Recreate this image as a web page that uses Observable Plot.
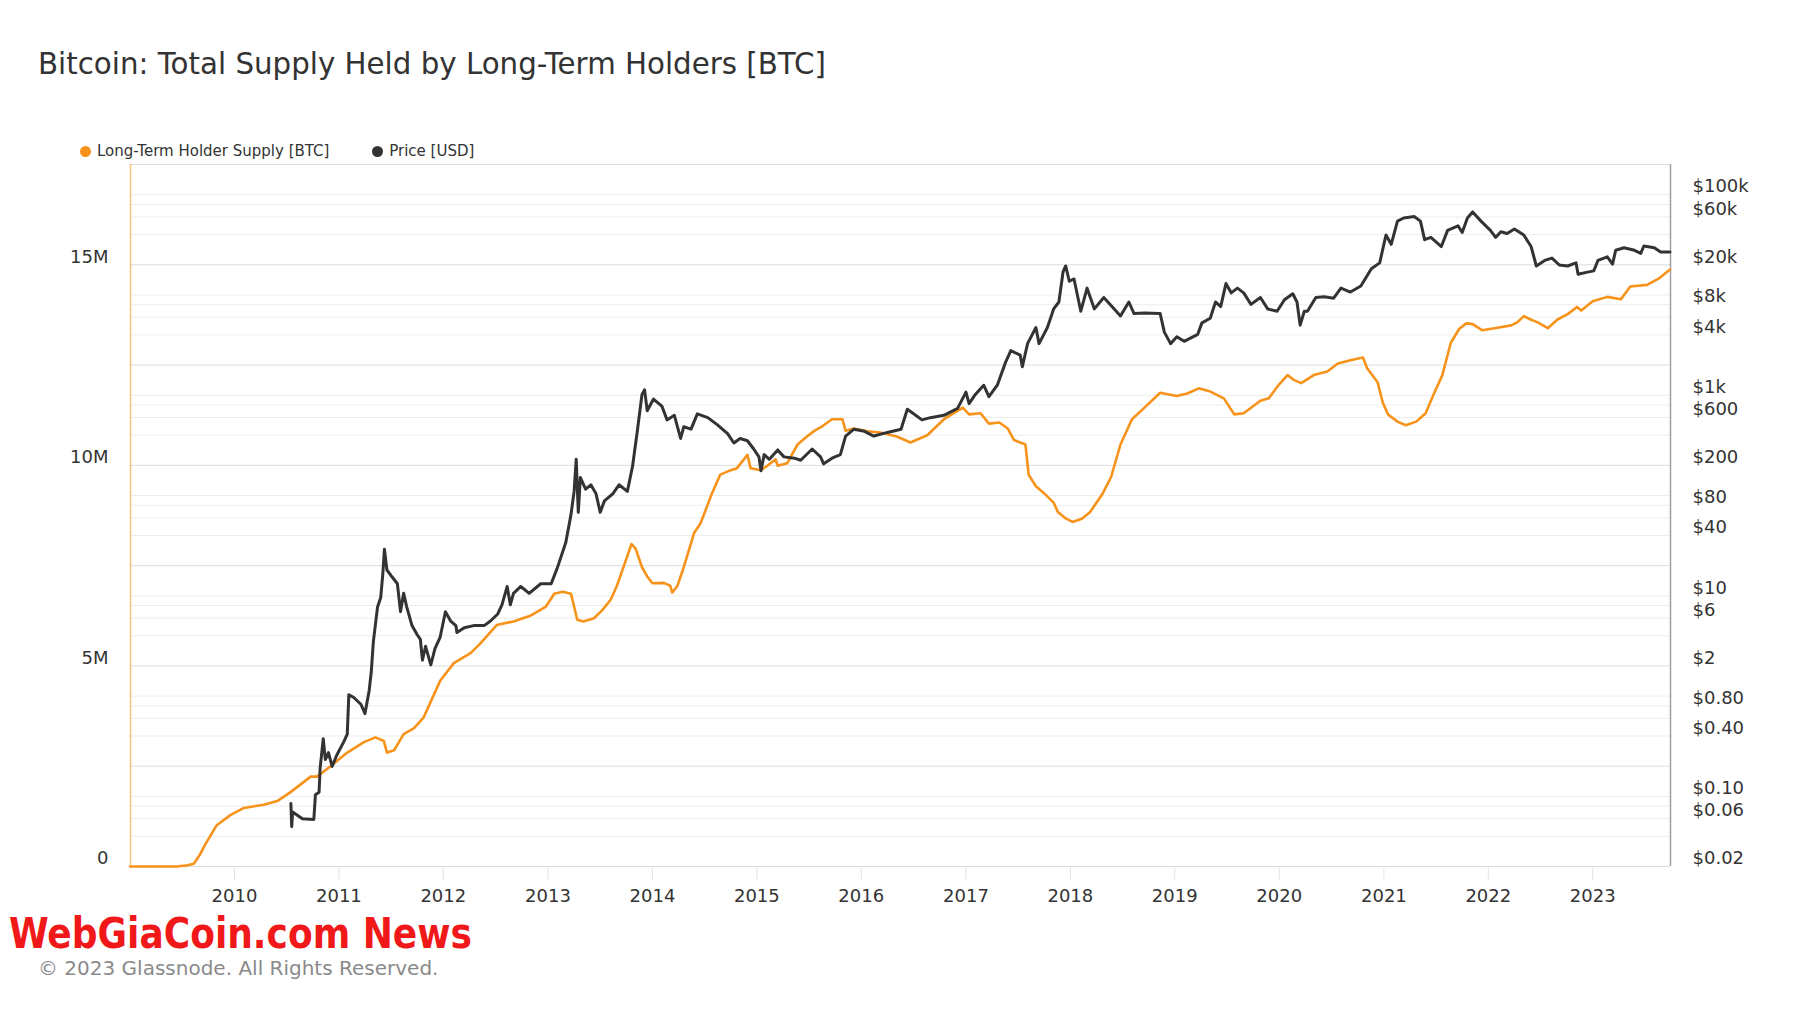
<!DOCTYPE html>
<html>
<head>
<meta charset="utf-8">
<script src="https://cdn.jsdelivr.net/npm/d3@7"></script>
<script src="https://cdn.jsdelivr.net/npm/@observablehq/plot@0.6"></script>
<style>
  html, body { margin: 0; padding: 0; background: #fff; }
  body { width: 1800px; height: 1013px; position: relative; overflow: hidden; font-family: "DejaVu Sans", sans-serif; }
  #title { position: absolute; left: 38px; top: 47px; font-family: "DejaVu Sans", sans-serif; font-size: 29.3px; color: #333; white-space: nowrap; }
  #legend { position: absolute; left: 80px; top: 142px; font-family: "DejaVu Sans", sans-serif; font-size: 15px; color: #333; white-space: nowrap; }
  #legend span.item { display: inline-flex; align-items: center; margin-right: 38px; }
  #legend span.dot { width: 11px; height: 11px; border-radius: 50%; display: inline-block; margin-right: 6px; }
  .layer { position: absolute; left: 0; top: 140px; }
  #copy { position: absolute; left: 38px; top: 956px; font-family: "DejaVu Sans", sans-serif; font-size: 20px; color: #8a8a8a; white-space: nowrap; }
  #wm { position: absolute; left: 0; top: 902px; }
</style>
</head>
<body>
<div id="title">Bitcoin: Total Supply Held by Long-Term Holders [BTC]</div>
<div id="legend">
  <span class="item"><span class="dot" style="background:#f7931a"></span>Long-Term Holder Supply [BTC]</span>
  <span class="item"><span class="dot" style="background:#333"></span>Price [USD]</span>
</div>
<div id="l1" class="layer"></div>
<div id="l2" class="layer"></div>
<div id="l3" class="layer"></div>
<svg id="wm" width="800" height="60"><text x="9" y="46" textLength="463" lengthAdjust="spacingAndGlyphs" font-family="DejaVu Sans Condensed" font-weight="bold" font-size="43.5" fill="#f01818">WebGiaCoin.com News</text></svg>
<div id="copy">© 2023 Glassnode. All Rights Reserved.</div>
<script>
// ---- Data (decimal years) ----
const supplyYears = [2009.00,2009.45,2009.55,2009.61,2009.67,2009.72,2009.77,2009.83,2009.96,2010.09,2010.28,2010.41,2010.54,2010.73,2010.79,2010.92,2011.08,2011.24,2011.35,2011.43,2011.46,2011.53,2011.62,2011.72,2011.81,2011.88,2011.97,2012.10,2012.26,2012.35,2012.51,2012.67,2012.83,2012.98,2013.06,2013.14,2013.22,2013.25,2013.28,2013.34,2013.44,2013.52,2013.60,2013.66,2013.73,2013.80,2013.84,2013.90,2013.95,2014.00,2014.11,2014.17,2014.19,2014.24,2014.30,2014.40,2014.46,2014.57,2014.65,2014.75,2014.81,2014.91,2014.94,2015.04,2015.10,2015.18,2015.20,2015.29,2015.39,2015.48,2015.55,2015.63,2015.72,2015.82,2015.85,2015.93,2016.06,2016.18,2016.34,2016.47,2016.63,2016.79,2016.97,2017.03,2017.14,2017.22,2017.32,2017.40,2017.46,2017.57,2017.60,2017.67,2017.75,2017.84,2017.88,2017.96,2018.02,2018.11,2018.19,2018.31,2018.39,2018.48,2018.59,2018.71,2018.86,2019.02,2019.12,2019.23,2019.34,2019.47,2019.57,2019.66,2019.82,2019.90,2020.00,2020.08,2020.14,2020.21,2020.33,2020.46,2020.56,2020.68,2020.80,2020.84,2020.94,2020.99,2021.04,2021.13,2021.21,2021.31,2021.40,2021.48,2021.56,2021.64,2021.72,2021.79,2021.85,2021.94,2022.06,2022.22,2022.28,2022.34,2022.41,2022.47,2022.57,2022.66,2022.76,2022.85,2022.89,2023.00,2023.14,2023.27,2023.36,2023.52,2023.64,2023.74];
const supplyM = [0,0,0.03,0.07,0.30,0.55,0.77,1.03,1.28,1.46,1.54,1.63,1.86,2.24,2.24,2.50,2.84,3.10,3.22,3.13,2.84,2.90,3.30,3.45,3.71,4.11,4.63,5.07,5.32,5.55,6.02,6.11,6.25,6.48,6.80,6.85,6.80,6.48,6.15,6.11,6.19,6.39,6.65,7.00,7.52,8.04,7.92,7.46,7.23,7.06,7.07,7.00,6.83,7.00,7.46,8.32,8.55,9.30,9.77,9.88,9.93,10.26,9.93,9.88,9.99,10.15,9.99,10.05,10.52,10.72,10.86,10.98,11.15,11.15,10.86,10.92,10.85,10.82,10.72,10.57,10.75,11.15,11.44,11.27,11.30,11.04,11.07,10.92,10.63,10.52,9.77,9.48,9.30,9.07,8.84,8.67,8.59,8.67,8.84,9.30,9.71,10.52,11.15,11.44,11.81,11.73,11.79,11.92,11.84,11.67,11.27,11.30,11.61,11.67,12.02,12.25,12.13,12.05,12.25,12.34,12.54,12.62,12.69,12.42,12.07,11.56,11.27,11.09,11.00,11.09,11.30,11.79,12.25,13.05,13.40,13.54,13.52,13.37,13.42,13.49,13.57,13.72,13.63,13.57,13.42,13.63,13.77,13.95,13.86,14.09,14.20,14.14,14.46,14.50,14.67,14.88];

const priceYears = [2010.540,2010.548,2010.557,2010.65,2010.76,2010.775,2010.81,2010.82,2010.85,2010.87,2010.90,2010.935,2010.98,2011.05,2011.08,2011.095,2011.14,2011.21,2011.25,2011.29,2011.31,2011.33,2011.37,2011.40,2011.42,2011.436,2011.46,2011.51,2011.56,2011.59,2011.62,2011.65,2011.70,2011.75,2011.78,2011.80,2011.83,2011.88,2011.92,2011.97,2012.02,2012.07,2012.12,2012.13,2012.20,2012.29,2012.39,2012.45,2012.52,2012.56,2012.61,2012.64,2012.67,2012.74,2012.82,2012.93,2013.03,2013.09,2013.17,2013.22,2013.25,2013.27,2013.29,2013.31,2013.36,2013.41,2013.46,2013.50,2013.54,2013.62,2013.68,2013.76,2013.81,2013.855,2013.90,2013.925,2013.95,2014.01,2014.09,2014.14,2014.21,2014.27,2014.30,2014.37,2014.43,2014.53,2014.62,2014.72,2014.78,2014.84,2014.91,2014.97,2015.02,2015.04,2015.07,2015.12,2015.20,2015.26,2015.36,2015.42,2015.53,2015.61,2015.64,2015.72,2015.80,2015.85,2015.93,2016.03,2016.12,2016.25,2016.38,2016.44,2016.49,2016.58,2016.66,2016.79,2016.92,2017.00,2017.03,2017.09,2017.17,2017.22,2017.30,2017.38,2017.43,2017.52,2017.54,2017.59,2017.67,2017.70,2017.78,2017.84,2017.89,2017.93,2017.955,2017.99,2018.035,2018.10,2018.16,2018.23,2018.32,2018.42,2018.48,2018.56,2018.61,2018.71,2018.86,2018.90,2018.96,2019.02,2019.09,2019.22,2019.26,2019.34,2019.39,2019.44,2019.49,2019.54,2019.60,2019.66,2019.73,2019.82,2019.89,2019.98,2020.05,2020.13,2020.17,2020.20,2020.24,2020.27,2020.35,2020.43,2020.52,2020.59,2020.68,2020.78,2020.88,2020.96,2021.02,2021.07,2021.13,2021.19,2021.29,2021.35,2021.39,2021.45,2021.55,2021.61,2021.71,2021.75,2021.80,2021.85,2021.93,2022.02,2022.07,2022.12,2022.18,2022.25,2022.34,2022.41,2022.46,2022.54,2022.61,2022.68,2022.76,2022.84,2022.86,2022.95,2023.01,2023.05,2023.14,2023.19,2023.22,2023.30,2023.40,2023.46,2023.49,2023.59,2023.65,2023.74];
const priceUSD = [0.085,0.05,0.07,0.06,0.059,0.104,0.11,0.19,0.376,0.233,0.273,0.199,0.259,0.356,0.418,1.03,0.975,0.83,0.67,1.14,1.75,3.49,7.73,9.55,16.3,29.1,18.1,15.4,13.2,6.95,10.6,7.73,5.05,4.09,3.68,2.28,3.14,2.05,2.97,3.88,6.95,5.61,5.05,4.31,4.8,5.05,5.05,5.61,6.59,8.14,12.4,8.14,10.6,12.4,10.6,13.2,13.2,19.1,34.1,64.5,110,230,68,151,116,128,104,68,88.5,104,128,110,197,437,1019,1132,702,917,780,568,631,371,485,459,652,598,510,414,334,371,352,291,243,177,256,230,285,243,236,225,291,243,207,236,256,392,459,437,392,426,459,725,666,568,598,631,739,1074,825,1019,1259,967,1259,2140,2786,2510,1923,3273,4743,3273,4743,7260,8510,16960,19470,13700,14450,6890,11700,7260,9440,7260,6180,8510,6530,6600,6530,4260,3273,3830,3450,4050,5270,5860,8510,7660,13000,10500,11700,10500,8060,9440,7260,6890,8950,10280,8510,5000,6890,6890,9440,9600,9280,11700,10700,12300,18240,20900,39600,32000,54500,58600,60500,54500,35600,37500,30400,44100,49000,42000,58600,67300,54500,44100,37500,42700,41000,45500,39600,30400,19450,22100,23300,19900,19450,20900,16070,16900,17400,22100,24000,20300,27900,29600,27900,26000,30800,29600,26800,26800];

const yearTicks = [2010,2011,2012,2013,2014,2015,2016,2017,2018,2019,2020,2021,2022,2023];
const supplyTicks = [0, 5e6, 10e6, 15e6];
const priceTicks = [100000,60000,20000,8000,4000,1000,600,200,80,40,10,6,2,0.8,0.4,0.1,0.06,0.02];

// ---- helpers ----
function yd(y) {
  const yr = Math.floor(y);
  const start = Date.UTC(yr, 0, 1), end = Date.UTC(yr + 1, 0, 1);
  return new Date(start + (y - yr) * (end - start));
}
const supply = supplyYears.map((y, i) => ({date: yd(y), value: supplyM[i] * 1e6}));
const price = priceYears.map((y, i) => ({date: yd(y), value: priceUSD[i]}));
const xDomain = [yd(2009.004), yd(2023.745)];
const tickDates = yearTicks.map(y => new Date(Date.UTC(y, 0, 1)));

const gridMajor = [], gridMinor = [];
for (let e = -2; e <= 5; e++) {
  for (const m of [1, 2, 4, 6, 8]) {
    const v = +(m * Math.pow(10, e)).toPrecision(6);
    if (v < 0.02 - 1e-9 || v > 200000 + 1e-6) continue;
    (m === 2 ? gridMajor : gridMinor).push(v);
  }
}

const W = 1800, H = 780;
const common = {
  width: W, height: H, marginTop: 24, marginBottom: 54, marginLeft: 130, marginRight: 130,
  style: {background: "transparent", fontFamily: "DejaVu Sans", fontSize: "18px", color: "#333"}
};
const fmtPrice = d => d >= 1000 ? "$" + (d / 1000) + "k" : d >= 1 ? "$" + d : "$" + d.toFixed(2);
const fmtSupply = d => d === 0 ? "0" : (d / 1e6) + "M";

// Layer 1: price grid + right axis
const p1 = Plot.plot({
  ...common,
  x: {type: "utc", domain: xDomain, axis: null},
  y: {type: "log", domain: [0.02, 200000], axis: null},
  marks: [
    Plot.ruleY(gridMinor, {stroke: "#ededed", strokeWidth: 1}),
    Plot.ruleY(gridMajor, {stroke: "#dddddd", strokeWidth: 1}),
    Plot.text(priceTicks, {x: () => xDomain[1], y: d => d, text: fmtPrice, textAnchor: "start", dx: 22, dy: -8, fill: "#333", fontSize: 18}),
    Plot.ruleX([xDomain[1]], {stroke: "#a0a0a0", strokeWidth: 1.5})
  ]
});
document.getElementById("l1").appendChild(p1);

// Layer 2: supply line, left axis, x axis
const p2 = Plot.plot({
  ...common,
  x: {type: "utc", domain: xDomain, axis: null},
  y: {type: "linear", domain: [0, 17.5e6], axis: null},
  marks: [
    Plot.ruleY([0], {stroke: "#dcdcdc"}),
    Plot.axisX(tickDates, {anchor: "bottom", label: null, tickSize: 14, tickPadding: 9, stroke: "#e4e4e4", fill: "#333", fontSize: 18, tickFormat: d => String(d.getUTCFullYear())}),
    Plot.axisY(supplyTicks, {anchor: "left", label: null, tickSize: 0, tickPadding: 22, dy: -8, tickFormat: fmtSupply, fill: "#333", fontSize: 18}),
    Plot.ruleX([xDomain[0]], {stroke: "#f7931a", strokeOpacity: 0.55, strokeWidth: 1.5}),
    Plot.line(supply, {x: "date", y: "value", stroke: "#f7931a", strokeWidth: 2.6, strokeLinejoin: "round"})
  ]
});
document.getElementById("l2").appendChild(p2);

// Layer 3: price line
const p3 = Plot.plot({
  ...common,
  x: {type: "utc", domain: xDomain, axis: null},
  y: {type: "log", domain: [0.02, 200000], axis: null},
  marks: [
    Plot.line(price, {x: "date", y: "value", stroke: "#333333", strokeWidth: 3, strokeLinejoin: "round"})
  ]
});
document.getElementById("l3").appendChild(p3);
</script>
</body>
</html>
